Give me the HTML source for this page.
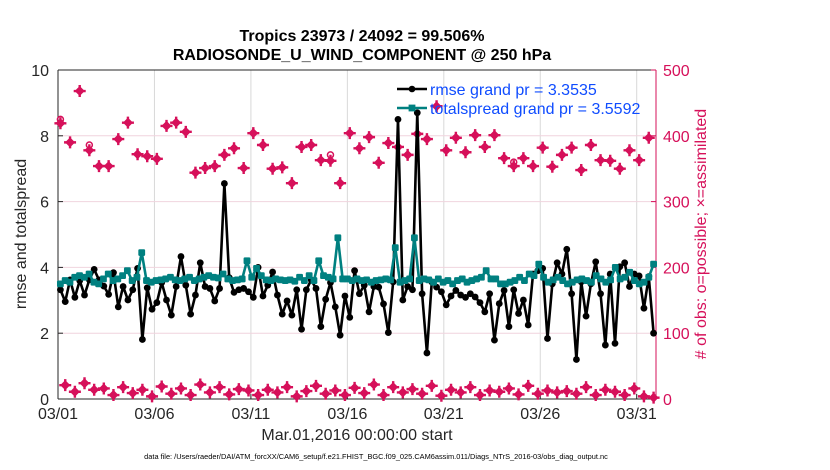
<!DOCTYPE html>
<html><head><meta charset="utf-8"><style>
body{margin:0;background:#fff;}
svg{display:block;font-family:"Liberation Sans",Arial,sans-serif;}
</style></head><body>
<svg id="chart" width="830" height="470" viewBox="0 0 830 470">
</svg>
<script>
const rmse=[3.32,2.96,3.62,3.09,3.6,3.16,3.62,3.94,3.62,3.43,3.18,3.84,2.8,3.42,3.01,3.32,3.97,1.81,3.38,2.73,2.93,3.54,3.01,2.55,3.42,4.33,3.46,2.58,3.16,4.14,3.42,
3.36,2.98,3.36,6.55,3.69,3.24,3.32,3.36,3.26,3.09,4.0,3.13,3.46,3.86,3.16,2.58,2.98,2.55,3.32,2.12,3.32,3.62,3.36,2.2,3.03,3.54,2.8,1.94,3.13,2.48,3.9,
3.2,3.46,2.65,3.42,3.4,2.89,2.02,3.56,8.5,3.01,3.42,3.32,8.7,3.2,1.4,3.56,3.4,3.26,2.86,3.13,3.3,3.16,3.09,3.2,3.1,2.93,2.65,3.2,1.79,2.9,3.3,
2.2,3.32,2.6,3.01,2.25,3.8,3.9,3.97,1.84,3.5,4.14,3.8,4.55,3.2,1.2,3.56,2.52,3.5,4.17,3.2,1.64,3.8,1.69,4.02,4.14,3.42,3.8,3.74,2.76,3.72,2.0];
const spread=[3.5,3.6,3.55,3.7,3.75,3.7,3.8,3.55,3.5,3.65,3.8,3.6,3.65,3.75,3.9,3.6,3.7,4.45,3.6,3.55,3.6,3.62,3.65,3.7,3.62,3.6,3.65,3.7,3.6,3.65,3.7,
3.75,3.7,3.68,3.8,3.65,3.6,3.62,3.65,4.2,3.7,3.97,3.75,3.62,3.6,3.65,3.62,3.6,3.62,3.58,3.7,3.6,3.75,3.6,4.2,3.75,3.7,3.65,4.9,3.65,3.65,3.6,
3.65,3.6,3.62,3.55,3.6,3.62,3.65,3.62,4.6,3.55,3.6,3.65,4.9,3.6,3.65,3.62,3.55,3.65,3.55,3.6,3.5,3.6,3.65,3.55,3.6,3.65,3.7,3.9,3.65,3.65,3.5,
3.5,3.55,3.6,3.7,3.6,3.8,3.75,4.1,3.7,3.55,3.62,3.7,3.6,3.5,3.55,3.62,3.65,3.6,3.55,3.75,3.65,3.55,3.62,4.0,3.65,3.7,3.85,3.6,3.5,3.55,3.7,4.1];
const obsHigh=[419,390,468,378,354,354,395,420,372,369,365,415,420,406,344,351,354,371,381,351,404,386,350,352,328,383,386,363,362,328,404,381,398,359,389,383,371,403,395,445,378,397,375,401,383,401,366,354,366,354,382,353,371,382,348,386,363,362,350,378,363,397];
const obsHighPossible=[425,390,468,386,354,354,395,420,372,369,365,415,420,406,347,351,354,371,385,351,404,386,350,352,328,386,386,363,371,328,404,381,398,359,389,386,371,403,395,445,381,397,375,401,386,401,366,360,366,354,382,353,375,382,348,390,363,362,350,378,363,397];
const obsLow=[21,11,24,14,16,6,18,9,14,4,19,8,16,6,22,10,18,7,15,13,6,14,10,18,4,12,20,8,13,6,17,9,22,6,18,10,15,8,20,5,14,10,18,6,13,11,16,7,20,8,13,10,12,8,18,6,14,11,6,16,4,2];
const yTicks=[0,2,4,6,8,10];
const rTicks=[0,100,200,300,400,500];
const dayTicks=[0,5,10,15,20,25,30];
const dayLabels=["03/01","03/06","03/11","03/16","03/21","03/26","03/31"];

const NS="http://www.w3.org/2000/svg";
const svg=document.getElementById('chart');
const L=58,R=656,T=70,B=399,DAYS=31;
const xs=d=>L+d/DAYS*(R-L);
const ys=v=>B-v/10*(B-T);
const yr=v=>B-v/500*(B-T);
const CR="#d6105a";
function mk(tag,attrs,parent){const e=document.createElementNS(NS,tag);for(const k in attrs)e.setAttribute(k,attrs[k]);(parent||svg).appendChild(e);return e;}

const grid=mk('g',{});


dayTicks.forEach(d=>{if(d>0)mk('line',{x1:xs(d),x2:xs(d),y1:T,y2:B,stroke:'#d8d8d8','stroke-width':1},grid);});
rTicks.forEach(v=>{if(v>0&&v<500)mk('line',{x1:L,x2:R,y1:yr(v),y2:yr(v),stroke:'#f0d4de','stroke-width':1},grid);});

mk('line',{x1:L,x2:R,y1:T,y2:T,stroke:'#262626','stroke-width':1});
mk('line',{x1:L,x2:R,y1:B,y2:B,stroke:'#262626','stroke-width':1});
mk('line',{x1:L,x2:L,y1:T,y2:B,stroke:'#262626','stroke-width':1});
mk('line',{x1:R,x2:R,y1:T,y2:B,stroke:CR,'stroke-width':1});

const yAx=mk('g',{});


yTicks.forEach(v=>{mk('line',{x1:L,x2:L+5,y1:ys(v),y2:ys(v),stroke:'#262626'},yAx);const t=mk('text',{x:L-9,y:ys(v)+6,'text-anchor':'end','font-size':16,fill:'#262626'},yAx);t.textContent=v;});
const rAx=mk('g',{});


rTicks.forEach(v=>{mk('line',{x1:R-5,x2:R,y1:yr(v),y2:yr(v),stroke:CR},rAx);const t=mk('text',{x:R+7,y:yr(v)+6,'font-size':16,fill:CR},rAx);t.textContent=v;});
const xAx=mk('g',{});


dayTicks.forEach((d,i)=>{mk('line',{x1:xs(d),x2:xs(d),y1:B,y2:B-5,stroke:'#262626'},xAx);const t=mk('text',{x:xs(d),y:B+20,'text-anchor':'middle','font-size':16,fill:'#262626'},xAx);t.textContent=dayLabels[i];});

function star(cx,cy,g){mk('path',{d:`M${cx} ${cy-5}L${cx+5} ${cy}L${cx} ${cy+5}L${cx-5} ${cy}Z`,fill:CR},g);mk('path',{d:`M${cx-6} ${cy}H${cx+6}M${cx} ${cy-6}V${cy+6}`,stroke:CR,'stroke-width':2.4},g);}
const obsG=mk('g',{});


const N=124;
const tx=i=>xs((i+0.5)/N*DAYS);
obsHigh.forEach((v,k)=>{const i=2*k;const p=obsHighPossible[k];if(p-v>4)mk('circle',{cx:tx(i),cy:yr(p),r:3,fill:'none',stroke:CR,'stroke-width':1.5},obsG);star(tx(i),yr(v),obsG);});
obsLow.forEach((v,k)=>{star(tx(2*k+1),yr(v),obsG);});

function series(arr,color,name,r,sq){
  const g=mk('g',{});
  
  
  const step=DAYS/arr.length;
  const pts=arr.map((v,i)=>[xs((i+0.5)*step),ys(v)]);
  mk('polyline',{points:pts.map(p=>p.join(',')).join(' '),fill:'none',stroke:color,'stroke-width':2.6,'stroke-linejoin':'round'},g);
  pts.forEach(p=>{if(sq)mk('rect',{x:p[0]-r,y:p[1]-r,width:2*r,height:2*r,rx:1.2,fill:color},g);else mk('circle',{cx:p[0],cy:p[1],r:r,fill:color},g);});
}
series(rmse,'#000','rmse-line',3.4,false);
series(spread,'#008080','totalspread-line',3.4,true);

const lg=mk('g',{});


mk('line',{x1:397,x2:427,y1:89,y2:89,stroke:'#000','stroke-width':2.6},lg);mk('circle',{cx:412,cy:89,r:3.3,fill:'#000'},lg);
mk('line',{x1:397,x2:427,y1:108,y2:108,stroke:'#008080','stroke-width':2.6},lg);mk('rect',{x:408.6,y:104.6,width:6.8,height:6.8,fill:'#008080'},lg);
let t=mk('text',{x:430,y:95,'font-size':16,fill:'#0f4cff'},lg);t.textContent='rmse grand pr = 3.3535';
t=mk('text',{x:430,y:114,'font-size':16,fill:'#0f4cff'},lg);t.textContent='totalspread grand pr = 3.5592';
</script>
<div style="position:absolute;left:0;top:0;width:830px;height:470px;pointer-events:none;font-family:'Liberation Sans',Arial,sans-serif;">
<div style="position:absolute;left:0;width:724px;top:27px;text-align:center;font-weight:bold;font-size:16px;color:#000;line-height:19px;">Tropics 23973 / 24092 = 99.506%<br>RADIOSONDE_U_WIND_COMPONENT @ 250 hPa</div>
<div style="position:absolute;left:22px;top:234px;transform:translate(-50%,-50%) rotate(-90deg);white-space:nowrap;font-size:16px;color:#262626;">rmse and totalspread</div>
<div style="position:absolute;left:702px;top:234px;transform:translate(-50%,-50%) rotate(-90deg);white-space:nowrap;font-size:16px;color:#d6105a;"># of obs: o=possible; ×=assimilated</div>
<div style="position:absolute;left:357px;top:427px;transform:translateX(-50%);white-space:nowrap;font-size:16px;color:#262626;">Mar.01,2016 00:00:00 start</div>
<div style="position:absolute;left:376px;top:452px;transform:translateX(-50%);white-space:nowrap;font-size:7.4px;color:#000;">data file: /Users/raeder/DAI/ATM_forcXX/CAM6_setup/f.e21.FHIST_BGC.f09_025.CAM6assim.011/Diags_NTrS_2016-03/obs_diag_output.nc</div>
</div>
</body></html>
